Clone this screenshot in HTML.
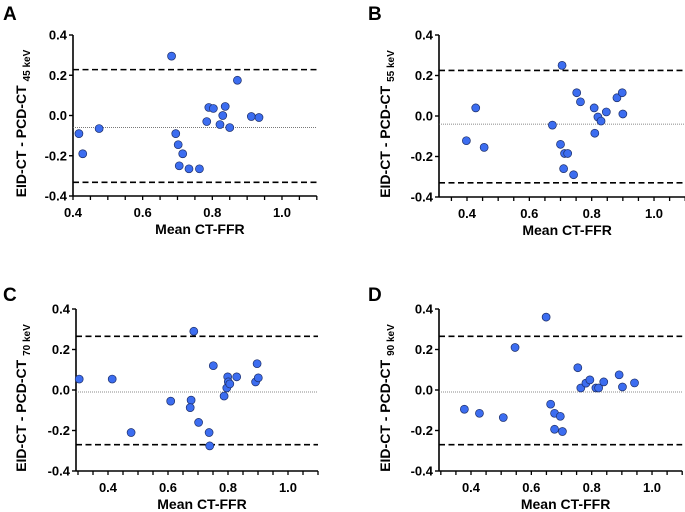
<!DOCTYPE html>
<html><head><meta charset="utf-8"><style>
html,body{margin:0;padding:0;background:#fff;}
svg{display:block;font-family:"Liberation Sans",Arial,sans-serif;}
</style></head><body>
<svg id="fig" width="685" height="512" viewBox="0 0 685 512"></svg>
<script>
const panelLetters = ["A","B","C","D"];
const energyLabels = ["45 keV","55 keV","70 keV","90 keV"];
const xTicks = [0.4,0.6,0.8,1.0];
const xTickLabels = ["0.4","0.6","0.8","1.0"];
const yTicks = [0.4,0.2,0,-0.2,-0.4];
const yTickLabels = ["0.4","0.2","0.0","-0.2","-0.4"];
const upperLoA = [0.228,0.225,0.265,0.265];
const biasVals = [-0.06,-0.04,-0.01,-0.01];
const lowerLoA = [-0.332,-0.33,-0.27,-0.27];
const aX = [0.417,0.428,0.475,0.683,0.695,0.702,0.715,0.705,0.733,0.763,0.784,0.79,0.803,0.822,0.83,0.837,0.85,0.872,0.912,0.934];
const aY = [-0.09,-0.19,-0.065,0.295,-0.09,-0.145,-0.19,-0.25,-0.265,-0.265,-0.03,0.04,0.035,-0.045,0.0,0.045,-0.06,0.175,-0.005,-0.01];
const bX = [0.398,0.428,0.455,0.674,0.705,0.70,0.713,0.723,0.71,0.742,0.752,0.764,0.808,0.81,0.82,0.83,0.847,0.881,0.898,0.90];
const bY = [-0.122,0.04,-0.155,-0.045,0.25,-0.14,-0.185,-0.185,-0.26,-0.29,0.115,0.07,0.04,-0.085,-0.005,-0.025,0.02,0.09,0.115,0.01];
const cX = [0.304,0.414,0.477,0.609,0.686,0.677,0.674,0.702,0.737,0.739,0.751,0.787,0.796,0.799,0.801,0.806,0.829,0.892,0.897,0.901];
const cY = [0.054,0.054,-0.21,-0.055,0.29,-0.05,-0.087,-0.16,-0.21,-0.276,0.12,-0.03,0.01,0.065,0.04,0.03,0.065,0.04,0.13,0.06];
const dX = [0.378,0.428,0.507,0.546,0.649,0.664,0.677,0.696,0.677,0.703,0.754,0.764,0.781,0.794,0.814,0.823,0.84,0.891,0.902,0.942];
const dY = [-0.095,-0.115,-0.136,0.21,0.36,-0.07,-0.115,-0.13,-0.194,-0.205,0.11,0.01,0.034,0.05,0.01,0.01,0.04,0.075,0.015,0.035];
const seriesX = [aX,bX,cX,dX];
const seriesY = [aY,bY,cY,dY];

// layout (not data)
const layout = [
 {ax:73, ref:73, per:348.3, xmin:0.4, top:35, bot:196, yl:20, lx:3, ly:20},
 {ax:439, ref:467, per:311.7, xmin:0.31, top:35, bot:197, yl:384, lx:368, ly:20},
 {ax:76, ref:108, per:300, xmin:0.293, top:309, bot:471, yl:20, lx:3, ly:301},
 {ax:439, ref:471, per:301.7, xmin:0.294, top:309, bot:471, yl:384, lx:368, ly:301}
];
const NS="http://www.w3.org/2000/svg";
const svg=document.getElementById('fig');
function mk(tag,attrs,parent){const e=document.createElementNS(NS,tag);for(const k in attrs)e.setAttribute(k,attrs[k]);(parent||svg).appendChild(e);return e;}

layout.forEach((L,i)=>{
  const g=mk('g',{});
  
  
  const xs=v=>L.ref+(v-0.4)*L.per;
  const ys=v=>L.top+(0.4-v)/0.8*(L.bot-L.top);
  const xEnd=xs(1.1);
  const lt=mk('text',{x:L.lx,y:L.ly,'font-size':19,'font-weight':'bold'},g);lt.textContent=panelLetters[i];
  
  
  const ya=mk('line',{x1:L.ax,y1:L.top,x2:L.ax,y2:L.bot,stroke:'#000','stroke-width':1.6},g);
  
  
  const xa=mk('line',{x1:L.ax,y1:L.bot,x2:xEnd,y2:L.bot,stroke:'#000','stroke-width':1.6},g);
  
  
  yTicks.forEach((t,k)=>{
    const y=ys(t);
    mk('line',{x1:L.ax-4,y1:y,x2:L.ax,y2:y,stroke:'#000','stroke-width':1.4},g);
    const tx=mk('text',{x:L.ax-6,y:y+4.5,'font-size':13,'font-weight':'bold','text-anchor':'end'},g);
    tx.textContent=yTickLabels[k];
    
    
  });
  for(let v=0.25;v<=1.1001;v+=0.05){
    const x=xs(v); if(x<L.ax-0.5||x>xEnd+0.5) continue;
    mk('line',{x1:x,y1:L.bot,x2:x,y2:L.bot+4,stroke:'#000','stroke-width':1.3},g);
  }
  xTicks.forEach((t,k)=>{
    const tx=mk('text',{x:xs(t),y:L.bot+21,'font-size':13,'font-weight':'bold','text-anchor':'middle'},g);
    tx.textContent=xTickLabels[k];
    
    
  });
  const xt=mk('text',{x:(L.ax+xEnd)/2+5,y:L.bot+38,'font-size':14,'font-weight':'bold','text-anchor':'middle'},g);
  xt.textContent='Mean CT-FFR';
  
  
  const cy=(L.top+L.bot)/2;
  const yt=mk('text',{x:0,y:0,'font-size':14,'font-weight':'bold','text-anchor':'middle',transform:`translate(${L.yl+6},${cy+8}) rotate(-90)`},g);
  yt.innerHTML='EID-CT - PCD-CT <tspan font-size="10" dy="4">'+energyLabels[i]+'</tspan>';
  
  
  [[upperLoA[i],'upper-loa'],[lowerLoA[i],'lower-loa']].forEach(([v,n])=>{
    const l=mk('line',{x1:L.ax,y1:ys(v),x2:xEnd,y2:ys(v),stroke:'#000','stroke-width':1.6,'stroke-dasharray':'6,3.5'},g);
    
    
  });
  const b=mk('line',{x1:L.ax,y1:ys(biasVals[i]),x2:xEnd,y2:ys(biasVals[i]),stroke:'#666','stroke-width':0.8,'stroke-dasharray':'1,1'},g);
  
  
  seriesX[i].forEach((xv,k)=>{
    const c=mk('circle',{cx:xs(xv),cy:ys(seriesY[i][k]),r:4,fill:'#3c6df0',stroke:'#1d2f6a','stroke-width':0.7},g);
    
    
  });
});
</script>
</body></html>
